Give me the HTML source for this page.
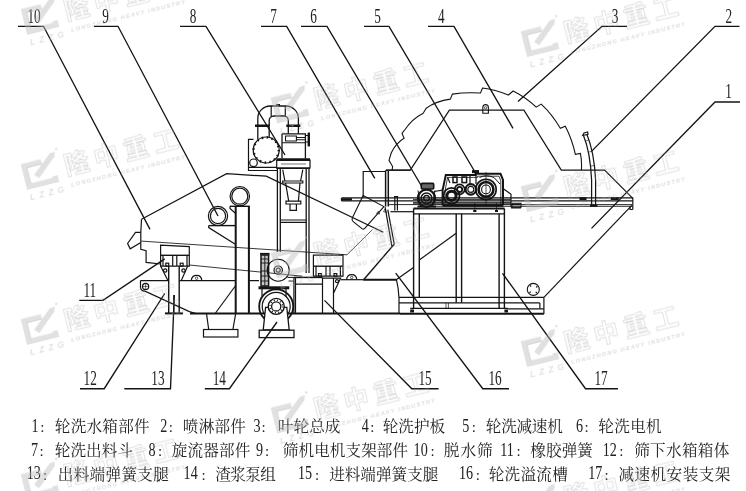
<!DOCTYPE html>
<html lang="zh"><head><meta charset="utf-8"><title>Sand washing and dewatering machine - structure</title>
<style>
html,body{margin:0;padding:0;background:#fff;overflow:hidden}
svg{display:block;font-family:"Liberation Serif",serif}
.ln{fill:none;stroke:#141414;stroke-linecap:butt;stroke-linejoin:miter}
.num{font-family:"Liberation Serif",serif;fill:#222}
.hid{fill:#000;fill-opacity:0;stroke:none;font-family:"Liberation Serif",serif}
.cj{font-family:"Liberation Serif","Noto Serif CJK SC",serif;fill:#222;stroke:none;font-size:15.6px}
.col{font-family:"Liberation Serif",serif;fill:#222;stroke:none;font-size:15px;text-anchor:middle}
</style></head><body>
<svg width="746" height="491" viewBox="0 0 746 491">
<rect width="746" height="491" fill="#fff"/>
<defs><g id="wm"><path d="M20.6,-23.8H2.7V-2.7H30.5V-7" fill="none" stroke="#bdbdbd" stroke-width="5.4"/><path d="M20.6,-21.6H5V-4.6" fill="none" stroke="#a8a8a8" stroke-width="1.2"/><path d="M10.5,-13L14.6,-8.5L34.6,-25.8L36.2,-30.6L30.8,-30Z" fill="#bababa" stroke="none"/><circle cx="38.2" cy="-32.8" r="1.2" fill="#bcbcbc"/><text x="1" y="10.5" font-family="Liberation Sans,sans-serif" font-style="italic" font-weight="bold" font-size="8.6" textLength="35" lengthAdjust="spacing" fill="#bababa">LZZG</text><text x="42 72.6 103.2 133.8" y="-5.5" font-family="'Liberation Sans','Noto Sans CJK SC',sans-serif" font-weight="bold" font-size="25" fill="none" stroke="#acacac" stroke-width="0.75">隆中重工</text><text x="44" y="8" font-family="Liberation Sans,sans-serif" font-style="italic" font-weight="bold" font-size="5.6" textLength="117" lengthAdjust="spacing" fill="#b0b0b0">LONGZHONG HEAVY INDUSTRY</text></g></defs>
<g class="ln" id="machine">
<path d="M141.5,219.3L226.6,173.7L266.2,176.2L383.3,232.2" stroke-width="1.2" />
<path d="M141.5,219.3L140.8,232.4V249.2L146.1,250.8V262.4L160.6,264" stroke-width="1.2" />
<path d="M140.8,232.4H135.5L127.6,243.5L130.2,248.8L140.8,242.5" stroke-width="1.2" />
<path d="M141.3,241.1L347,254.8" stroke-width="0.85" />
<path d="M189.3,265L302.4,276.2" stroke-width="0.85" />
<circle cx="218" cy="216" r="9.6" stroke-width="1.2" />
<circle cx="218" cy="216" r="7.6" stroke-width="1.2" />
<circle cx="239.8" cy="196.2" r="9.7" stroke-width="1.2" />
<circle cx="239.8" cy="196.2" r="8" stroke-width="1.2" />
<path d="M208.7,225.6H235.7" stroke-width="1.4" />
<path d="M208.7,225.6V227.6L235.7,244.6" stroke-width="1.2" />
<path d="M235.7,206.3V313.4M248.9,206.3V313.4" stroke-width="2.0" />
<path d="M230,206.3H249.9" stroke-width="1.4" />
<path d="M230,206.3V208.5L235.7,213.5" stroke-width="1.2" />
<path d="M235.7,285.5L215.5,313" stroke-width="1.2" />
<path d="M206.5,313.6L208.7,329.5M235.7,313.6L232.9,329.5" stroke-width="1.2" />
<rect x="203.5" y="329.5" width="34.4" height="7.5" stroke-width="1.2" />
<path d="M160.6,245.2L189.3,246.6V266.1H160.6Z" stroke-width="1.2" />
<path d="M160.6,255.3H189.3" stroke-width="1.4" />
<path d="M163,255.3V266M187,255.3V266M172.7,255.3V266M176.8,255.3V266" stroke-width="1.2" />
<rect x="165.8" y="263.2" width="2.9" height="2.9" stroke-width="1.2" />
<rect x="180.2" y="263.2" width="2.9" height="2.9" stroke-width="1.2" />
<path d="M160.6,266.1L167.9,280.6M187.7,266.1L181.3,280.6" stroke-width="1.2" />
<circle cx="165.2" cy="270.5" r="1.7" stroke-width="1.2" />
<circle cx="183.5" cy="270.5" r="1.7" stroke-width="1.2" />
<path d="M168.7,266.1V313.4M179.2,266.1V313.4" stroke-width="1.4" />
<path d="M173.8,295V313.4" stroke-width="1.2" />
<path d="M165,313.4H183" stroke-width="2.0" />
<path d="M140.5,280.6H168.7M179.2,280.6H235.7M249,280.6H259" stroke-width="1.2" />
<path d="M140.5,280.6V287Q140.5,291 145,291.2L189.4,311.6L196,313.6" stroke-width="1.2" />
<circle cx="145.6" cy="286.4" r="3.1" stroke-width="1.2" />
<path d="M142.5,286.4H148.7M145.6,283.3V289.5" stroke-width="0.6" />
<path d="M191.3,280.6Q191.6,275.3 196.6,275.3Q201.6,275.3 201.8,280.6" stroke-width="1.2" />
<circle cx="196.6" cy="278.3" r="1.2" stroke-width="0.7" />
<path d="M190,313.6H400" stroke-width="2.0" />
<path d="M257.8,125.8V118.5A12.5,12.5 0 0 1 270.3,106H285.9A12.5,12.5 0 0 1 298.4,118.5V125.8" stroke-width="1.3" />
<path d="M269.2,125.8V120.5A4.5,4.5 0 0 1 273.7,116H283.8A4.5,4.5 0 0 1 288.3,120.5V125.8" stroke-width="1.3" />
<path d="M271.2,106V116M285.3,106V116" stroke-width="1.2" />
<path d="M276.8,106V104.6H279.4V106" stroke-width="1.2" />
<path d="M255,125.8H269.8M286.3,125.8H300.4" stroke-width="2.4" />
<path d="M257.8,127V139M269.2,127V138" stroke-width="1.3" />
<path d="M288.3,127V133.8M298.4,127V133.8" stroke-width="1.3" />
<circle cx="266.2" cy="150" r="13" stroke-width="1.2" />
<circle cx="266.2" cy="150" r="12.6" stroke-width="2.4" stroke-dasharray="1.5 3.45"/>
<path d="M253.5,139.3H248.5V170.5H277M248.5,167.4H277" stroke-width="1.2" />
<circle cx="253.5" cy="162.8" r="3.8" stroke-width="1.2" />
<path d="M282,133.8H305.4V158.4M282,133.8V158.4" stroke-width="1.3" />
<path d="M282,142.7H305.4M285.5,136H296.4V141H285.5ZM296.4,137.5H305.4M296.4,139.8H305.4" stroke-width="1.1" />
<path d="M305.4,135.5H308M305.4,142H308" stroke-width="1" />
<path d="M308.8,132.6V146.4" stroke-width="2.4" />
<path d="M276.7,159.6H310" stroke-width="2.6" />
<path d="M276.7,159.6V168H310V159.6" stroke-width="1.2" />
<path d="M276.7,168.2H310" stroke-width="1.6" />
<path d="M281,164H306" stroke-width="0.6" />
<path d="M277.4,168V252M280.3,168V252M306.2,168V273M309,168V273" stroke-width="1.3" />
<path d="M280.3,220H306.2M280.3,222.4H306.2" stroke-width="1.2" />
<path d="M282.7,169.7L284.9,181M302.8,169.7L300.6,181" stroke-width="1.2" />
<path d="M282.7,181H302.8V183H282.7Z" stroke-width="1.2" />
<path d="M285.6,183L288.7,201.2M300,183L298.4,201.2" stroke-width="1.2" />
<path d="M286,201.2H300.8V204H286Z" stroke-width="1.2" />
<path d="M290,204V210.3H296.4V204" stroke-width="1.2" />
<rect x="261" y="255" width="7.6" height="31" stroke-width="1.5" fill="#c4c4c4"/>
<path d="M261,259H268.6M261,263H268.6M261,271H268.6M261,276H268.6M261,281H268.6M264.8,255V286" stroke-width="0.9" />
<path d="M260,253.8H269.6" stroke-width="1.8" />
<circle cx="278.2" cy="270.2" r="11" stroke-width="1.1" />
<circle cx="278.2" cy="270.2" r="4.2" stroke-width="1.2" />
<circle cx="278.2" cy="270.2" r="2" stroke-width="1.2" />
<path d="M258.5,287.8H289.3" stroke-width="3" />
<path d="M262,289V296M286,289V297" stroke-width="1.2" />
<path d="M287.5,277.4H293.9M288.6,281H293.9" stroke-width="1" />
<circle cx="276.2" cy="306.4" r="17" stroke-width="1.8" />
<circle cx="276.2" cy="306.4" r="14" stroke-width="1.2" />
<path d="M265.6,307.4H286.8L289.2,330H263.2Z" stroke-width="1.3" fill="#fff"/>
<circle cx="276.2" cy="306.4" r="8" stroke-width="1.4" fill="#fff"/>
<circle cx="276.2" cy="306.4" r="4.6" stroke-width="1.3" />
<circle cx="276.2" cy="306.4" r="6.3" stroke-width="1.3" stroke-dasharray="1.1 2.2"/>
<rect x="259.2" y="330.2" width="34.8" height="7.4" stroke-width="1.3" fill="#fff"/>
<path d="M313.4,255.1H343V276.2H313.4Z" stroke-width="1.2" />
<path d="M313.4,266.2H343" stroke-width="1.4" />
<path d="M316,266.2V276M340.4,266.2V276M326,266.2V276M330,266.2V276" stroke-width="1.2" />
<rect x="318.5" y="273.6" width="2.8" height="2.6" stroke-width="1.2" />
<rect x="334" y="273.6" width="2.8" height="2.6" stroke-width="1.2" />
<path d="M293.9,277.4H322.5" stroke-width="1.5" />
<path d="M322.5,277.4V313.6M293.9,277.4V313.6M295.5,277.4V313.6M295.5,284.2H322.5" stroke-width="1.2" />
<path d="M322.5,278.2H340.6L333.5,293.3M333.5,278.2V313.6" stroke-width="1.2" />
<circle cx="337" cy="281.2" r="1.5" stroke-width="1.2" />
<path d="M340.6,279.7H363.2" stroke-width="1.2" />
<path d="M363.2,279.7H396.4" stroke-width="2" />
<path d="M346.6,279.7Q347,274.6 351.7,274.6Q356.4,274.6 356.8,279.7" stroke-width="1.2" />
<circle cx="351.7" cy="277.5" r="1.2" stroke-width="0.7" />
<path d="M363.2,197.3V171.5H385.5" stroke-width="1.2" />
<path d="M341.5,197.9H362M341.5,200.8H362M341.5,197.9V200.8" stroke-width="1.25" />
<path d="M341.5,199.4H352" stroke-width="2.4" />
<path d="M363.1,195.6L352.3,218Q351.5,220.2 353.2,221.6L362,228.6Q363.6,229.8 365,228.2L383.9,206.6L363.1,195.6" stroke-width="1.1" />
<path d="M378.4,211.2L379.6,214L376.6,213.4ZM385,209L386.6,212.4L383.6,211.8Z" stroke-width="0.7" />
<path d="M347,254.8L372.5,229.5" stroke-width="0.7" />
<path d="M385.6,170.2V206.4M388.3,170.2V206.4" stroke-width="1.5" />
<path d="M386,170.2H410.3" stroke-width="1.2" />
<path d="M385.1,207.2L391.9,246.4M387.8,209.7L394.3,244.5" stroke-width="1.2" />
<path d="M391.9,246.4L394.3,244.5" stroke-width="1.2" />
<path d="M393,245.6L363.6,279.7" stroke-width="1.4" />
<path d="M390.4,211.7H413.5" stroke-width="1.2" />
<path d="M413.5,267.6L396.2,279.7" stroke-width="1.2" />
<path d="M396.4,279.7Q398.6,288 399,298V313.6" stroke-width="1.2" />
<path d="M631.8,205.3L543.9,297.4" stroke-width="1.2" />
<path d="M362,197.9H632.8M362,200.8H632.8" stroke-width="1.25" />
<path d="M388,204.6H632M420,206.3H632.8" stroke-width="0.9" />
<path d="M413,199.4H511M413,202.6H511M413,203.8H511" stroke-width="0.9" />
<path d="M579.5,198.6H586.5M610.7,198.6H618.7" stroke-width="2.6" />
<path d="M632.8,197.6V209.5M630,206.2V209.5H632.8" stroke-width="1.2" />
<path d="M394.8,196.7V210.4M397.4,196.7V210.4M394,196.7H398.2" stroke-width="1.2" />
<path d="M386,170.2H410.3L449.4,110.2H523.9L561.3,170.1H604.6L632.8,198.3" stroke-width="1.2" />
<path d="M482.8,111V107.6Q482.8,104.6 485.6,104.6Q488.4,104.6 488.4,107.6V111M482.8,110.2V113.2H488.4V110.2" stroke-width="1.1" />
<circle cx="485.6" cy="107.8" r="1.2" stroke-width="0.7" />
<path d="M392.1,170.5L392.6,166.5L389,160.4L391.2,153Q396,143 404.1,138.3L402,133.3L405.2,129.3Q412,119 423.2,113.2L426.2,108.2Q436,101 450.4,99.1L452.4,94.1Q466,92 480.5,93L482.5,88Q495,89.5 508.3,95L513.2,91Q526,97.5 536.2,107.1L541.2,104.1Q552,114 560.3,128.3L565.3,126.2Q572,139 575.4,154.4L580.4,153.4Q582,161 581.4,170" stroke-width="1.1" />
<path d="M583.4,135.2Q590.3,152 591.6,180V205.3M586.8,134Q594.2,152 595.6,180V205.3" stroke-width="1.25" />
<path d="M582.6,135.5L584,133L587.6,132L588,134.4Z" stroke-width="1.2" />
<path d="M585.5,141L588.6,140M588.6,152L591.8,151.4M590.8,166L594.4,165.6" stroke-width="0.6" />
<path d="M590,205.8H597.4" stroke-width="2" />
<path d="M413.5,208.4H504.4" stroke-width="2.0" />
<path d="M413.5,213.8H504.4" stroke-width="1.2" />
<path d="M413.6,208.4V308M419.3,213.8V297.4M456.2,213.8V302.8M461.6,213.8V302.8M499.1,213.8V308M504.4,208.4V308" stroke-width="1.4" />
<path d="M419.3,260L456.2,233.2" stroke-width="1.2" />
<path d="M399,297.4H543.9M399,302.9H539.9M410.2,308.3H507.8M507.8,308.9H543.9" stroke-width="1.2" />
<path d="M543.9,297.4V314M539.9,302.9V308.5" stroke-width="1.2" />
<path d="M400,313.8H543.9" stroke-width="2.0" />
<path d="M410.2,310.9H414M504.4,310.9H508" stroke-width="3" />
<path d="M446,302.9V308.5M448.4,302.9V308.5" stroke-width="0.7" />
<circle cx="533.3" cy="289.4" r="6" stroke-width="1.1" />
<circle cx="533.3" cy="289.4" r="4.3" stroke-width="1.6" stroke-dasharray="1.2 5.55" stroke-dashoffset="-2.8"/>
<circle cx="426.5" cy="198.3" r="8.6" stroke-width="2.2" />
<circle cx="426.5" cy="198.3" r="5.4" stroke-width="1.5" />
<circle cx="426.5" cy="198.3" r="2.8" stroke-width="1.4" />
<rect x="421.3" y="183.4" width="12.4" height="5.6" stroke-width="1.6" fill="#666" rx="1"/>
<path d="M418,190.5L420.5,206M435,190.5L432.5,206" stroke-width="1" />
<path d="M417.5,206.5H436" stroke-width="2" />
<path d="M433.8,191.5L442.6,190.2M435.2,200L443,201" stroke-width="1.2" />
<path d="M442.6,205.5V190L445.8,175H475.6V173.8H500.5L503,180V205.5" stroke-width="2" />
<path d="M445,205V191L447.6,177.4H477.6V176.2H499L500.8,181V205" stroke-width="0.8" />
<path d="M442.6,205.5H503" stroke-width="2.4" />
<rect x="453" y="177" width="4" height="5.6" stroke-width="1.5" />
<rect x="462" y="177" width="4.6" height="5.6" stroke-width="1.5" />
<path d="M447.5,177L450,183M470,176V184M476,175V184" stroke-width="1.2" />
<circle cx="451.5" cy="195.8" r="8" stroke-width="1.8" />
<circle cx="451.5" cy="195.8" r="4.6" stroke-width="3" />
<circle cx="459.6" cy="189.4" r="5" stroke-width="1.6" />
<circle cx="459.6" cy="189.4" r="2.6" stroke-width="1.8" />
<circle cx="470.8" cy="189.4" r="5.2" stroke-width="2.2" />
<circle cx="470.8" cy="189.4" r="3" stroke-width="1.1" />
<circle cx="486" cy="189.4" r="10.2" stroke-width="1.6" />
<circle cx="486" cy="189.4" r="7.4" stroke-width="2.6" />
<circle cx="486" cy="189.4" r="4.4" stroke-width="1.1" />
<path d="M479.5,177.5Q486,174 494,177.5L500,184" stroke-width="1" />
<path d="M486,172V207M474.8,203V211.5M496.5,203V211.5" stroke-width="0.7" />
<path d="M472,171.6H479" stroke-width="3" />
<path d="M473.2,211H476.4M495,211H498" stroke-width="2.2" />
<path d="M503,188.6L511,194.2V207.2M511,204.7H520M511,207.9H521" stroke-width="1.2" />
<rect x="512" y="203.3" width="9" height="4" stroke-width="1.1" />
</g>
<g class="ln" id="leaders">
<path d="M18,26.3H43.5L150,229.4" stroke-width="1.35" />
<path d="M94,26.3H118L218,216" stroke-width="1.35" />
<path d="M180,26.3H206L285,155" stroke-width="1.35" />
<path d="M261,26.3H286.7L374.8,178.3" stroke-width="1.35" />
<path d="M301,26.3H327L421.5,186" stroke-width="1.35" />
<path d="M364,26.3H389L475,172" stroke-width="1.35" />
<path d="M428,26.3H454L513,128.3" stroke-width="1.35" />
<path d="M627,26.3H602L518,101.5" stroke-width="1.35" />
<path d="M739.5,26.3H715L591.5,151.4" stroke-width="1.35" />
<path d="M740,102H715L591.5,228.4" stroke-width="1.35" />
<path d="M79.3,300.3H103L164.7,258.9" stroke-width="1.35" />
<path d="M80,388.7H104.2L164.7,293.5" stroke-width="1.35" />
<path d="M124.3,388.7H170.5L174.3,295" stroke-width="1.35" />
<path d="M204.8,388.7H229.4L277,322" stroke-width="1.35" />
<path d="M438.6,388.7H411.8L324.5,300.4" stroke-width="1.35" />
<path d="M509,388.7H482.8L395.7,273.2" stroke-width="1.35" />
<path d="M618,388.7H585.5L502.5,273.3" stroke-width="1.35" />
</g>
<g class="num" font-size="20.7" text-anchor="middle" opacity="0.999">
<text transform="translate(34,22.7) scale(0.64,1)">10</text>
<text transform="translate(105.6,22.7) scale(0.64,1)">9</text>
<text transform="translate(193,22.7) scale(0.64,1)">8</text>
<text transform="translate(273.5,22.7) scale(0.64,1)">7</text>
<text transform="translate(313.6,22.7) scale(0.64,1)">6</text>
<text transform="translate(377.5,22.7) scale(0.64,1)">5</text>
<text transform="translate(441.2,22.7) scale(0.64,1)">4</text>
<text transform="translate(615,22.7) scale(0.64,1)">3</text>
<text transform="translate(728.7,22.7) scale(0.64,1)">2</text>
<text transform="translate(728.5,98.4) scale(0.64,1)">1</text>
<text transform="translate(89.8,296.7) scale(0.64,1)">11</text>
<text transform="translate(90.2,385.09999999999997) scale(0.64,1)">12</text>
<text transform="translate(157.9,385.09999999999997) scale(0.64,1)">13</text>
<text transform="translate(219.3,385.09999999999997) scale(0.64,1)">14</text>
<text transform="translate(425,385.09999999999997) scale(0.64,1)">15</text>
<text transform="translate(495,385.09999999999997) scale(0.64,1)">16</text>
<text transform="translate(601,385.09999999999997) scale(0.64,1)">17</text>
</g>
<g id="legend" fill="#222" stroke="#222" stroke-width="0.25" opacity="0.999">
<text class="num" stroke="none" font-size="18.6" transform="translate(31.50,431.80) scale(0.76,1)">1</text>
<text class="col" x="42.3" y="431.9">:</text>
<text class="cj" x="54.85" y="431.9" textLength="94.8">轮洗水箱部件</text>
<text class="num" stroke="none" font-size="18.6" transform="translate(160.20,431.80) scale(0.76,1)">2</text>
<text class="col" x="170.8" y="431.9">:</text>
<text class="cj" x="182.85" y="431.9" textLength="63.0">喷淋部件</text>
<text class="num" stroke="none" font-size="18.6" transform="translate(253.60,431.80) scale(0.76,1)">3</text>
<text class="col" x="263.6" y="431.9">:</text>
<text class="cj" x="277.85" y="431.9" textLength="62.6">叶轮总成</text>
<text class="num" stroke="none" font-size="18.6" transform="translate(361.70,431.80) scale(0.76,1)">4</text>
<text class="col" x="372.3" y="431.9">:</text>
<text class="cj" x="382.75" y="431.9" textLength="62.3">轮洗护板</text>
<text class="num" stroke="none" font-size="18.6" transform="translate(462.20,431.80) scale(0.76,1)">5</text>
<text class="col" x="473.9" y="431.9">:</text>
<text class="cj" x="485.85" y="431.9" textLength="76.9">轮洗减速机</text>
<text class="num" stroke="none" font-size="18.6" transform="translate(575.90,431.80) scale(0.76,1)">6</text>
<text class="col" x="586.6" y="431.9">:</text>
<text class="cj" x="598.35" y="431.9" textLength="63.3">轮洗电机</text>
<text class="num" stroke="none" font-size="18.6" transform="translate(30.90,455.60) scale(0.76,1)">7</text>
<text class="col" x="41.5" y="455.7">:</text>
<text class="cj" x="54.85" y="455.7" textLength="78.1">轮洗出料斗</text>
<text class="num" stroke="none" font-size="18.6" transform="translate(148.40,455.60) scale(0.76,1)">8</text>
<text class="col" x="160" y="455.7">:</text>
<text class="cj" x="171.85" y="455.7" textLength="78.4">旋流器部件</text>
<text class="num" stroke="none" font-size="18.6" transform="translate(255.90,455.60) scale(0.76,1)">9</text>
<text class="col" x="267" y="455.7">:</text>
<text class="cj" x="282.85" y="455.7" textLength="125.3">筛机电机支架部件</text>
<text class="num" stroke="none" font-size="18.6" transform="translate(413.60,455.60) scale(0.76,1)">10</text>
<text class="col" x="432.6" y="455.7">:</text>
<text class="cj" x="443.75" y="455.7" textLength="48.9">脱水筛</text>
<text class="num" stroke="none" font-size="18.6" transform="translate(500.20,455.60) scale(0.76,1)">11</text>
<text class="col" x="518.5" y="455.7">:</text>
<text class="cj" x="530.25" y="455.7" textLength="62.7">橡胶弹簧</text>
<text class="num" stroke="none" font-size="18.6" transform="translate(602.70,455.60) scale(0.76,1)">12</text>
<text class="col" x="621.4" y="455.7">:</text>
<text class="cj" x="634.15" y="455.7" textLength="95.2">筛下水箱箱体</text>
<text class="num" stroke="none" font-size="18.6" transform="translate(26.70,479.40) scale(0.76,1)">13</text>
<text class="col" x="45.1" y="479.5">:</text>
<text class="cj" x="57.85" y="479.5" textLength="110.9">出料端弹簧支腿</text>
<text class="num" stroke="none" font-size="18.6" transform="translate(183.60,479.40) scale(0.76,1)">14</text>
<text class="col" x="203.6" y="479.5">:</text>
<text class="cj" x="215.35" y="479.5" textLength="60.4">渣浆泵组</text>
<text class="num" stroke="none" font-size="18.6" transform="translate(298.00,479.40) scale(0.76,1)">15</text>
<text class="col" x="317" y="479.5">:</text>
<text class="cj" x="329.15" y="479.5" textLength="109.2">进料端弹簧支腿</text>
<text class="num" stroke="none" font-size="18.6" transform="translate(458.90,479.40) scale(0.76,1)">16</text>
<text class="col" x="477.9" y="479.5">:</text>
<text class="cj" x="488.65" y="479.5" textLength="79.1">轮洗溢流槽</text>
<text class="num" stroke="none" font-size="18.6" transform="translate(588.30,479.40) scale(0.76,1)">17</text>
<text class="col" x="606.7" y="479.5">:</text>
<text class="cj" x="618.45" y="479.5" textLength="111.9">减速机安装支架</text></g>
<g id="watermarks" opacity="0.45"><use href="#wm" transform="translate(27.1,34.9) rotate(-14)"/><use href="#wm" transform="translate(27.1,189.9) rotate(-14)"/><use href="#wm" transform="translate(27.1,344.9) rotate(-14)"/><use href="#wm" transform="translate(27.1,499.9) rotate(-14)"/><use href="#wm" transform="translate(277.1,123.5) rotate(-14)"/><use href="#wm" transform="translate(277.1,278.5) rotate(-14)"/><use href="#wm" transform="translate(277.1,433.5) rotate(-14)"/><use href="#wm" transform="translate(527.1,57.1) rotate(-14)"/><use href="#wm" transform="translate(527.1,212.1) rotate(-14)"/><use href="#wm" transform="translate(527.1,367.1) rotate(-14)"/><use href="#wm" transform="translate(527.1,522.1) rotate(-14)"/></g>
</svg>
</body></html>
